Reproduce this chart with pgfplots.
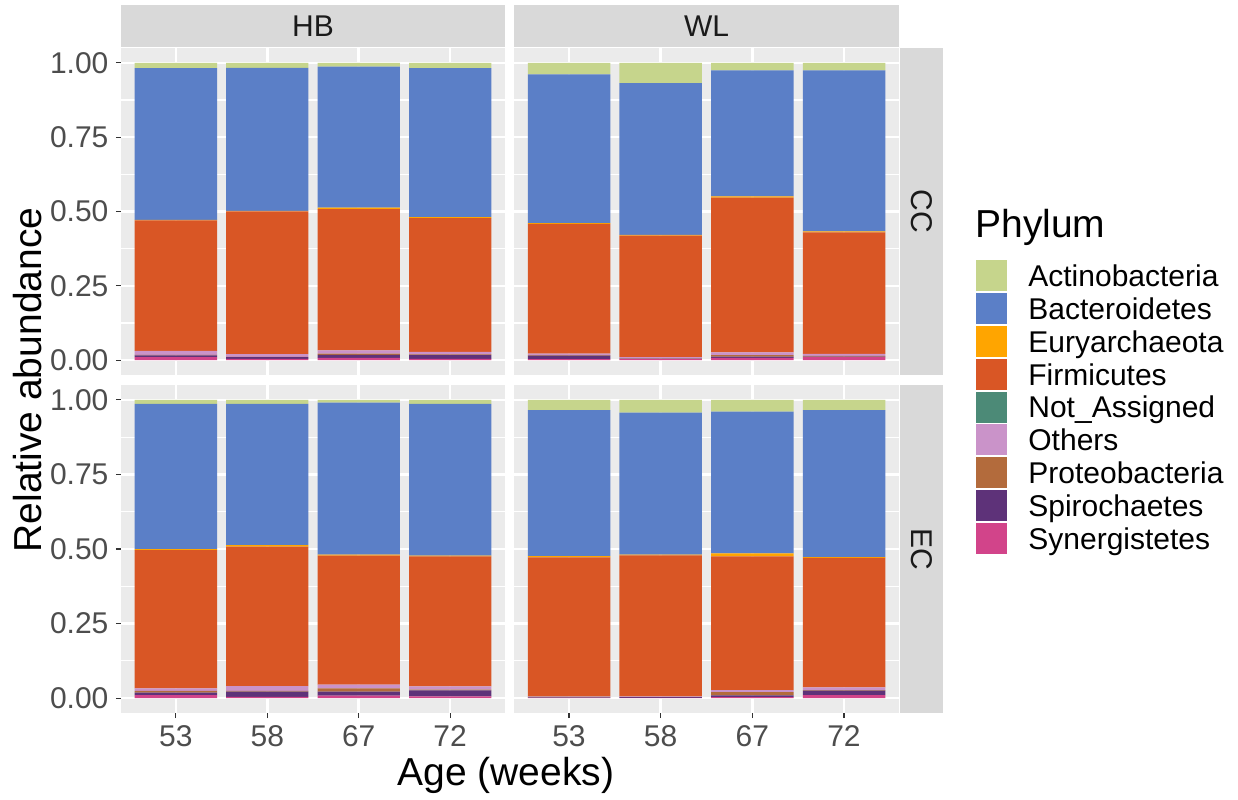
\documentclass[border=0pt]{standalone}
\usepackage{pgfplots}
\pgfplotsset{compat=1.18}
\usepackage{pgfplotstable}
\usepackage{fontspec}
\setmainfont{Liberation Sans}

\definecolor{cActino}{HTML}{C6D58C}
\definecolor{cBact}{HTML}{5B7FC7}
\definecolor{cEury}{HTML}{FFA500}
\definecolor{cFirm}{HTML}{D95625}
\definecolor{cNotA}{HTML}{4C8A77}
\definecolor{cOthers}{HTML}{CA93C9}
\definecolor{cProteo}{HTML}{B36B3C}
\definecolor{cSpiro}{HTML}{5E3279}
\definecolor{cSyn}{HTML}{D2448A}
\definecolor{panelbg}{HTML}{EBEBEB}
\definecolor{stripbg}{HTML}{D9D9D9}
\definecolor{grey30}{HTML}{4D4D4D}
\definecolor{grey20}{HTML}{333333}
\definecolor{grey10}{HTML}{1A1A1A}

% columns: Age-index, then phyla from bottom of stack to top
\pgfplotstableread{
x Syn Spiro Proteo Others NotA Firm Eury Bact Actino
1 0.010 0.006 0.002 0.013 0.000 0.439 0.002 0.510 0.018
2 0.004 0.006 0.001 0.009 0.000 0.480 0.002 0.481 0.017
3 0.008 0.010 0.004 0.011 0.000 0.475 0.005 0.474 0.013
4 0.004 0.014 0.001 0.009 0.000 0.450 0.003 0.501 0.018
}\hbcc
\pgfplotstableread{
x Syn Spiro Proteo Others NotA Firm Eury Bact Actino
1 0.003 0.012 0.002 0.005 0.000 0.436 0.003 0.500 0.039
2 0.003 0.002 0.001 0.004 0.000 0.409 0.002 0.511 0.068
3 0.008 0.004 0.005 0.009 0.000 0.521 0.004 0.424 0.025
4 0.010 0.002 0.002 0.007 0.000 0.409 0.003 0.542 0.025
}\wlcc
\pgfplotstableread{
x Syn Spiro Proteo Others NotA Firm Eury Bact Actino
1 0.010 0.008 0.006 0.009 0.000 0.463 0.004 0.487 0.013
2 0.004 0.018 0.002 0.016 0.000 0.468 0.005 0.474 0.013
3 0.008 0.014 0.011 0.012 0.000 0.433 0.003 0.510 0.009
4 0.006 0.020 0.002 0.011 0.000 0.436 0.003 0.509 0.013
}\hbec
\pgfplotstableread{
x Syn Spiro Proteo Others NotA Firm Eury Bact Actino
1 0.001 0.001 0.003 0.002 0.000 0.465 0.004 0.490 0.034
2 0.001 0.002 0.001 0.002 0.000 0.473 0.002 0.476 0.043
3 0.003 0.006 0.011 0.007 0.000 0.448 0.010 0.476 0.039
4 0.010 0.015 0.002 0.009 0.000 0.434 0.003 0.493 0.034
}\wlec

\pgfplotsset{
  mylegend/.style={legend image code/.code={%
      \path[##1] (0pt,-7.75pt) rectangle (15.5pt,7.75pt);
      \path (26pt,0pt);}},
  panel/.style={
    scale only axis,
    anchor=south west,
    xmin=0.4, xmax=4.6, ymin=-0.05, ymax=1.05,
    ybar stacked, bar width=0.9,
    axis background/.style={fill=panelbg},
    axis line style={draw=none},
    grid=both,
    major grid style={white, line width=1.3pt},
    minor grid style={white, line width=0.65pt},
    xtick={1,2,3,4},
    ytick={0,0.25,0.5,0.75,1},
    minor ytick={0.125,0.375,0.625,0.875},
    tick align=outside, tick pos=left,
    major tick length=2.6pt, minor tick length=0pt,
    tick style={color=grey20, line width=0.55pt},
    ticklabel style={font=\fontsize{15}{18}\selectfont, text=grey30, inner sep=0pt},
    xticklabel style={yshift=-3.5pt},
    yticklabel style={xshift=-3.5pt},
  },
  toprow/.style={height=163.5pt, xticklabels={}, xtick style={draw=none}},
  botrow/.style={height=164pt, xticklabels={53,58,67,72}},
  leftcol/.style={width=192pt, yticklabels={0.00,0.25,0.50,0.75,1.00}},
  rightcol/.style={width=192.5pt, yticklabels={}, ytick style={draw=none}},
}

\newcommand\stackplots[1]{%
  \addplot[fill=cSyn, draw=none, mylegend] table[x=x,y=Syn]{#1};
  \addplot[fill=cSpiro, draw=none, mylegend] table[x=x,y=Spiro]{#1};
  \addplot[fill=cProteo, draw=none, mylegend] table[x=x,y=Proteo]{#1};
  \addplot[fill=cOthers, draw=none, mylegend] table[x=x,y=Others]{#1};
  \addplot[fill=cNotA, draw=none, mylegend] table[x=x,y=NotA]{#1};
  \addplot[fill=cFirm, draw=none, mylegend] table[x=x,y=Firm]{#1};
  \addplot[fill=cEury, draw=none, mylegend] table[x=x,y=Eury]{#1};
  \addplot[fill=cBact, draw=none, mylegend] table[x=x,y=Bact]{#1};
  \addplot[fill=cActino, draw=none, mylegend] table[x=x,y=Actino]{#1};
}

\begin{document}
\begin{tikzpicture}
\useasboundingbox (0,0) rectangle (619pt,399.5pt);

% HB / CC
\begin{axis}[panel, toprow, leftcol, at={(60.5pt,212pt)}]
\stackplots{\hbcc}
\end{axis}
% WL / CC (hosts legend)
\begin{axis}[panel, toprow, rightcol, at={(257pt,212pt)},
  reverse legend, legend cell align=left,
  legend style={at={(1.2,0.3517)}, anchor=north west, draw=none, fill=none,
    inner sep=0pt, row sep=0.9pt, font=\fontsize{15}{18}\selectfont,
    nodes={inner sep=0pt, text depth=0pt}}]
\stackplots{\wlcc}
\legend{Synergistetes,Spirochaetes,Proteobacteria,Others,Not\_Assigned,Firmicutes,Euryarchaeota,Bacteroidetes,Actinobacteria}
\end{axis}
% HB / EC
\begin{axis}[panel, botrow, leftcol, at={(60.5pt,43pt)}]
\stackplots{\hbec}
\end{axis}
% WL / EC
\begin{axis}[panel, botrow, rightcol, at={(257pt,43pt)}]
\stackplots{\wlec}
\end{axis}

% facet strips
\fill[stripbg] (60.5pt,376pt) rectangle (252.5pt,397pt);
\fill[stripbg] (257pt,376pt) rectangle (449.5pt,397pt);
\fill[stripbg] (450pt,212pt) rectangle (471.5pt,375.5pt);
\fill[stripbg] (450pt,43pt) rectangle (471.5pt,207pt);
\node[text=grey10, font=\fontsize{15}{18}\selectfont, inner sep=0pt] at (156.5pt,386.5pt) {HB};
\node[text=grey10, font=\fontsize{15}{18}\selectfont, inner sep=0pt] at (353.25pt,386.5pt) {WL};
\node[text=grey10, font=\fontsize{15}{18}\selectfont, inner sep=0pt, rotate=-90] at (460.75pt,293.75pt) {CC};
\node[text=grey10, font=\fontsize{15}{18}\selectfont, inner sep=0pt, rotate=-90] at (460.75pt,125pt) {EC};

% axis titles
\node[font=\fontsize{19.5}{23}\selectfont, inner sep=0pt, rotate=90] at (14pt,209.5pt) {Relative abundance};
\node[font=\fontsize{19.5}{23}\selectfont, inner sep=0pt] at (253pt,12pt) {Age (weeks)};
% legend title
\node[font=\fontsize{19.5}{23}\selectfont, inner sep=0pt, anchor=base west] at (487.5pt,280.5pt) {Phylum};
\end{tikzpicture}
\end{document}
